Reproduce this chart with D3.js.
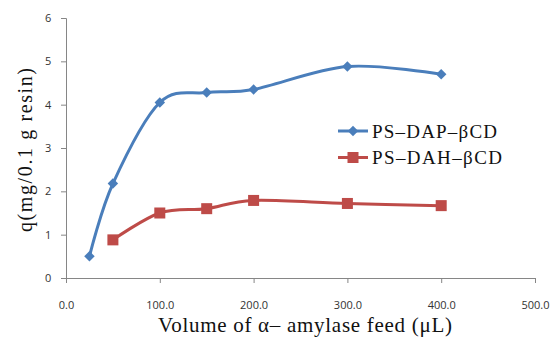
<!DOCTYPE html>
<html>
<head>
<meta charset="utf-8">
<script src="https://cdn.jsdelivr.net/npm/d3@7"></script>
<style>
  body { margin: 0; background: #fff; }
  svg { display: block; }
</style>
</head>
<body>
<script>
// chart size
var w = 554;
var h = 338;

// data
var dapX = [25, 50, 100, 150, 200, 300, 400];
var dapY = [0.5, 2.18, 4.05, 4.28, 4.35, 4.88, 4.70];
var dahX = [50, 100, 150, 200, 300, 400];
var dahY = [0.88, 1.50, 1.60, 1.79, 1.72, 1.67];
var seriesNames = ["PS\u2013DAP\u2013\u03B2CD", "PS\u2013DAH\u2013\u03B2CD"];
var xTicks = [0, 100, 200, 300, 400, 500];
var yTicks = [0, 1, 2, 3, 4, 5, 6];

var colorBlue = "#4A7EBB";
var colorRed = "#BE4B48";
var colorAxis = "#868686";

var svg = d3.select("body")
	.append("svg")
	.attr("width", w)
	.attr("height", h);

var x = d3.scaleLinear().domain([0, 500]).range([66, 535]);
var y = d3.scaleLinear().domain([0, 6]).range([278, 18]);

// axes
var xAxis = svg.append("g")
	.attr("transform", "translate(0," + y(0) + ")")
	.call(d3.axisBottom(x).tickValues(xTicks).tickSize(5).tickFormat(d3.format(".1f")));
var yAxis = svg.append("g")
	.attr("transform", "translate(" + x(0) + ",0)")
	.call(d3.axisLeft(y).tickValues(yTicks).tickSize(5).tickFormat(d3.format("d")));

[xAxis, yAxis].forEach(function(a) {
	a.selectAll("path, line").attr("stroke", colorAxis);
	a.selectAll("text")
		.attr("font-family", "'Open Sans', sans-serif")
		.attr("font-size", "11px")
		.attr("fill", "#333");
});
xAxis.selectAll("text").attr("dy", "2.1em");
yAxis.selectAll("text").attr("dx", "-0.6em");

// lines
var line = d3.line()
	.x(function(d) { return x(d[0]); })
	.y(function(d) { return y(d[1]); })
	.curve(d3.curveCatmullRom.alpha(0));

var dap = d3.zip(dapX, dapY);
var dah = d3.zip(dahX, dahY);

svg.append("path").datum(dap)
	.attr("d", line)
	.attr("fill", "none")
	.attr("stroke", colorBlue)
	.attr("stroke-width", 3);
svg.append("path").datum(dah)
	.attr("d", line)
	.attr("fill", "none")
	.attr("stroke", colorRed)
	.attr("stroke-width", 3);

var diamond = d3.symbol().type(d3.symbolDiamond2).size(70);

svg.selectAll("path.dap").data(dap)
	.enter()
	.append("path")
	.attr("class", "dap")
	.attr("d", diamond)
	.attr("transform", function(d) { return "translate(" + x(d[0]) + "," + y(d[1]) + ")"; })
	.attr("fill", colorBlue);

svg.selectAll("rect.dah").data(dah)
	.enter()
	.append("rect")
	.attr("class", "dah")
	.attr("x", function(d) { return x(d[0]) - 5.5; })
	.attr("y", function(d) { return y(d[1]) - 5.5; })
	.attr("width", 11)
	.attr("height", 11)
	.attr("fill", colorRed);

// legend
var legend = svg.append("g");
[colorBlue, colorRed].forEach(function(c, i) {
	var ly = 131 + i * 26.5;
	legend.append("line")
		.attr("x1", 338).attr("x2", 368)
		.attr("y1", ly).attr("y2", ly)
		.attr("stroke", c)
		.attr("stroke-width", 3);
	if (i == 0) {
		legend.append("path")
			.attr("d", diamond)
			.attr("transform", "translate(353," + ly + ")")
			.attr("fill", c);
	} else {
		legend.append("rect")
			.attr("x", 347.5).attr("y", ly - 5.5)
			.attr("width", 11).attr("height", 11)
			.attr("fill", c);
	}
	legend.append("text")
		.text(seriesNames[i])
		.attr("x", 372)
		.attr("y", ly + 6.5)
		.attr("font-family", "'Liberation Serif', serif")
		.attr("font-size", "19px")
		.attr("textLength", i == 0 ? 125 : 130)
		.attr("lengthAdjust", "spacing")
		.attr("fill", "#111");
});

// axis titles
svg.append("text")
	.text("Volume of \u03B1\u2013 amylase feed (\u03BCL)")
	.attr("x", 158)
	.attr("y", 332)
	.attr("font-family", "'Liberation Serif', serif")
	.attr("font-size", "21px")
	.attr("textLength", 294)
	.attr("lengthAdjust", "spacing")
	.attr("fill", "#111");

svg.append("text")
	.text("q(mg/0.1 g resin)")
	.attr("transform", "translate(32,232) rotate(-90)")
	.attr("font-family", "'Liberation Serif', serif")
	.attr("font-size", "20px")
	.attr("textLength", 164)
	.attr("lengthAdjust", "spacing")
	.attr("fill", "#111");
</script>
</body>
</html>
